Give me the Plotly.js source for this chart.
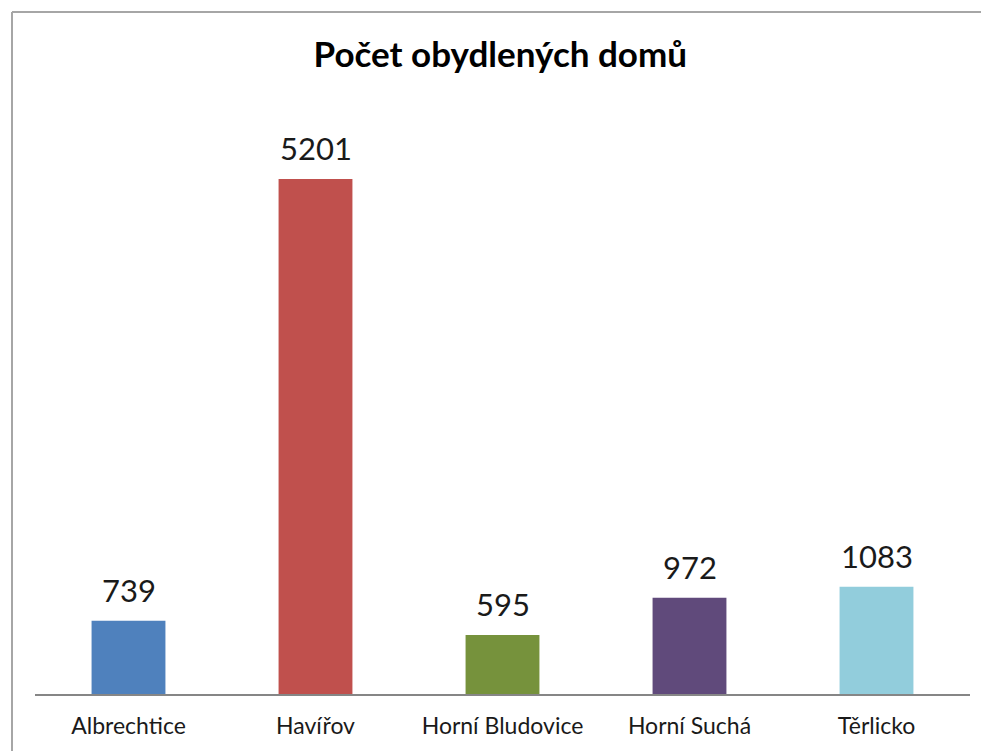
<!DOCTYPE html>
<html>
<head>
<meta charset="utf-8">
<script src="https://cdn.plot.ly/plotly-3.0.1.min.js"></script>
<style>
html,body{margin:0;padding:0;background:#fff;}
#chart{width:981px;height:751px;}
</style>
</head>
<body>
<div id="chart"></div>
<script>
const categories = ["Albrechtice", "Havířov", "Horní Bludovice", "Horní Suchá", "Těrlicko"];
const values = [739, 5201, 595, 972, 1083];
const barColors = ["#4F81BD", "#C0504D", "#76923C", "#604A7B", "#92CDDC"];
const chartTitle = "Počet obydlených domů";

const W = 981, H = 751;
const mL = 35, mR = 11, mT = 100, mB = 57;
const pw = W - mL - mR, ph = H - mT - mB;
function px2x(p){ return (p - mL) / pw; }
function py2y(p){ return (H - mB - p) / ph; }

const FONT = "Lato, 'Open Sans', sans-serif";

const trace = {
  type: "bar",
  x: categories,
  y: values,
  marker: {color: barColors, line: {width: 0}},
  width: 0.395,
  hoverinfo: "none"
};

const labelAnnotations = categories.map((c, i) => ({
  x: c, y: values[i], xref: "x", yref: "y",
  text: String(values[i]),
  showarrow: false,
  yanchor: "bottom",
  yshift: 10,
  font: {family: FONT, size: 31, color: "#1a1a1a"}
}));

const layout = {
  width: W, height: H,
  margin: {l: mL, r: mR, t: mT, b: mB},
  paper_bgcolor: "#fff",
  plot_bgcolor: "#fff",
  showlegend: false,
  title: {
    text: "<b>" + chartTitle + "</b>",
    font: {family: FONT, size: 35, color: "#000"},
    x: 0.51, xanchor: "center",
    y: 1 - 55 / H, yanchor: "middle"
  },
  xaxis: {
    showgrid: false, zeroline: false,
    showline: true, linecolor: "#868686", linewidth: 1.5,
    ticks: "outside", ticklen: 11, tickcolor: "rgba(0,0,0,0)",
    tickfont: {family: FONT, size: 23, color: "#1a1a1a"},
    fixedrange: true
  },
  yaxis: {
    range: [0, 6000],
    showgrid: false, zeroline: false, showline: false,
    showticklabels: false, ticks: "",
    fixedrange: true
  },
  annotations: labelAnnotations,
  shapes: [
    {type: "line", xref: "paper", yref: "paper",
     x0: px2x(12), x1: px2x(12), y0: py2y(12), y1: py2y(H + 5),
     line: {color: "#a6a6a6", width: 2}},
    {type: "line", xref: "paper", yref: "paper",
     x0: px2x(12), x1: px2x(W + 5), y0: py2y(12), y1: py2y(12),
     line: {color: "#a6a6a6", width: 2}}
  ]
};

Plotly.newPlot("chart", [trace], layout, {displayModeBar: false, staticPlot: true});
</script>
</body>
</html>
